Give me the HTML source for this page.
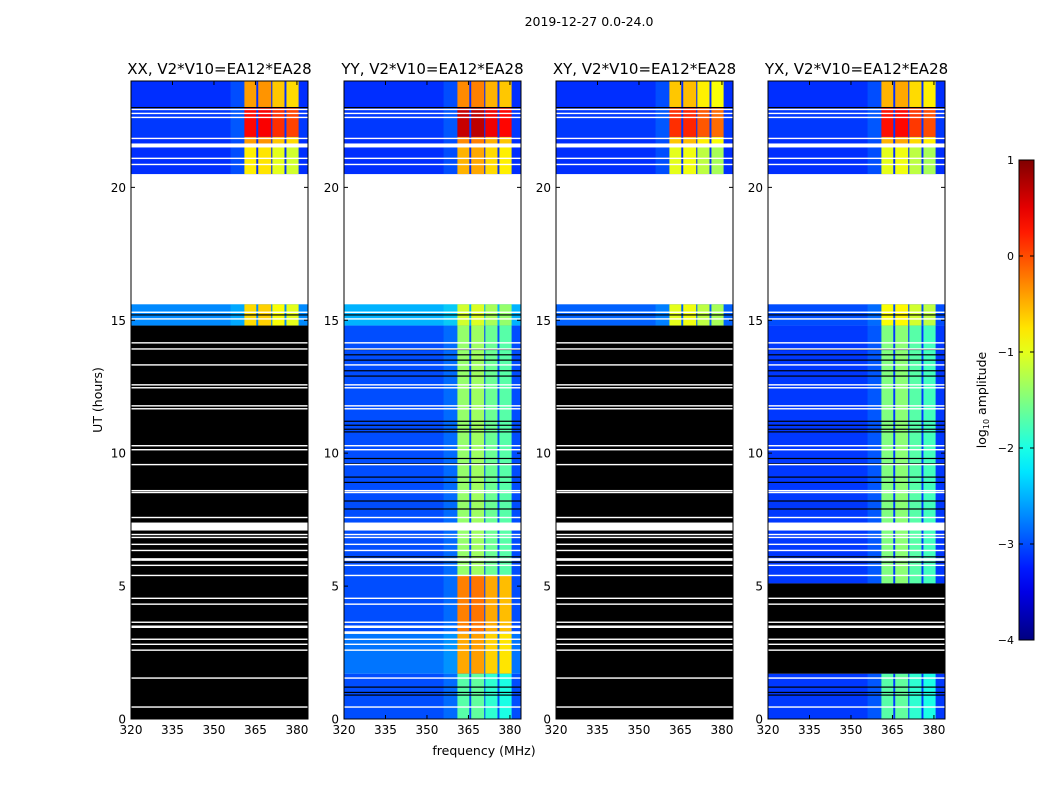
<!DOCTYPE html>
<html><head><meta charset="utf-8"><style>
body{margin:0;background:#fff;}
svg{display:block;font-family:"DejaVu Sans","Liberation Sans",sans-serif;}
</style></head><body>
<svg id="fig" width="1050" height="800" viewBox="0 0 1050 800" xmlns="http://www.w3.org/2000/svg">
<rect width="1050" height="800" fill="#fff"/>
<text x="589" y="26" font-size="12.5" text-anchor="middle">2019-12-27 0.0-24.0</text>
<text x="484" y="755" font-size="12.5" text-anchor="middle">frequency (MHz)</text>
<text x="0" y="0" font-size="12.5" text-anchor="middle" transform="translate(102,400) rotate(-90)">UT (hours)</text>
<g id="panels"></g>
<g id="cbar"></g>
<text font-size="12.5" text-anchor="middle" transform="translate(986,400) rotate(-90)">log<tspan font-size="8" dy="3">10</tspan><tspan dy="-3"> amplitude</tspan></text>
</svg>
<script>
// ---- data ----
const panelTitles = ["XX, V2*V10=EA12*EA28","YY, V2*V10=EA12*EA28","XY, V2*V10=EA12*EA28","YX, V2*V10=EA12*EA28"];
const xTicks = [320,335,350,365,380];
const yTicks = [0,5,10,15,20];
const cbarTicks = [1,0,-1,-2,-3,-4];
const cbarLabels = ["1","0","\u22121","\u22122","\u22123","\u22124"];
// subbands [startMHz, endMHz] and relative level offsets
const bandStart = [361.0, 366.0, 371.1, 376.2];
const bandEnd   = [365.3, 370.7, 375.5, 380.6];
const bandOffset = [0.0, 0.05, -0.2, -0.3];
// segments per panel: [t0, t1, kind, background log-amp, band log-amp]
const segXX = [[20.5,24,'d',-3.15,-0.4],[21.9,23.0,'d',-3.1,0.35],[20.5,21.6,'d',-3.15,-0.8],[14.8,15.6,'d',-2.7,-0.7],[0,14.8,'k',0,0]];
const segYY = [[20.5,24,'d',-3.15,-0.3],[21.9,23.0,'d',-3.1,0.65],[20.5,21.6,'d',-3.15,-0.5],[14.8,15.6,'d',-2.5,-1.1],[5.4,14.8,'d',-3.0,-1.4],[3.3,5.4,'d',-3.0,-0.25],[1.7,3.2,'d',-2.8,-0.45],[0,1.7,'d',-3.0,-1.7]];
const segXY = [[20.5,24,'d',-3.15,-0.6],[21.9,23.0,'d',-3.1,0.15],[20.5,21.6,'d',-3.15,-1.0],[14.8,15.6,'d',-2.9,-1.0],[0,14.8,'k',0,0]];
const segYX = [[20.5,24,'d',-3.15,-0.5],[21.9,23.0,'d',-3.1,0.3],[20.5,21.6,'d',-3.15,-1.0],[14.8,15.6,'d',-3.0,-0.9],[5.1,14.8,'d',-3.1,-1.5],[1.7,5.1,'k',0,0],[0,1.7,'d',-3.1,-1.7]];
const panelSegs = [segXX, segYY, segXY, segYX];
// flagged (white) time lines and (white) blocks, hours
const whiteLines = [22.93,22.78,22.63,21.84,21.09,20.86,15.3,15.05,14.15,13.92,13.32,12.57,12.46,11.78,11.67,10.28,10.13,9.57,8.59,8.52,7.58,6.94,6.83,6.57,6.34,5.78,5.40,4.54,4.32,3.64,3.49,3.45,3.0,2.81,2.59,1.54,0.45];
const whiteBlocks = [[7.09,7.39],[21.5,21.65],[5.95,6.05]];
// black (missing) time lines, hours (visible in data regions)
const blackLines = [23.0,13.9,13.7,13.5,13.1,12.9,11.2,11.05,10.9,10.8,9.8,9.6,9.1,8.9,8.2,7.9,6.1,5.9,1.2,1.0,0.9,15.2];

// ---- layout ----
const panelX = [131,344,556,768], panelW = 177, plotTop = 81, plotBot = 719;
const fMin = 320, fMax = 384, tMin = 0, tMax = 24, vMin = -4, vMax = 1;
const NS = "http://www.w3.org/2000/svg";
function jet(v){
  let t = Math.max(0, Math.min(1, (v - vMin) / (vMax - vMin)));
  const c = x => Math.round(255 * Math.max(0, Math.min(1, x)));
  return `rgb(${c(1.5-Math.abs(4*t-3))},${c(1.5-Math.abs(4*t-2))},${c(1.5-Math.abs(4*t-1))})`;
}
function el(tag, attrs, parent){
  const e = document.createElementNS(NS, tag);
  for (const k in attrs) e.setAttribute(k, attrs[k]);
  parent.appendChild(e); return e;
}
const yOf = t => plotBot - (t - tMin) / (tMax - tMin) * (plotBot - plotTop);
const panelsG = document.getElementById('panels');

panelSegs.forEach((segs, p) => {
  const x0 = panelX[p];
  const xOf = f => x0 + (f - fMin) / (fMax - fMin) * panelW;
  const g = el('g', {}, panelsG);
  
  
  const bg = el('rect', {x:x0, y:plotTop, width:panelW, height:plotBot-plotTop, fill:'#fff'}, g);
  
  
  segs.forEach(s => {
    const y1 = yOf(s[1]), y0 = yOf(s[0]);
    if (s[2] === 'k') {
      const r = el('rect', {x:x0, y:y1, width:panelW, height:y0-y1, fill:'#000'}, g);
      
      
    } else {
      const r = el('rect', {x:x0, y:y1, width:panelW, height:y0-y1, fill:jet(s[3])}, g);
      
      
      const ramp = el('rect', {x:xOf(356), y:y1, width:xOf(361)-xOf(356), height:y0-y1, fill:jet(s[3]+0.5), opacity:0.3}, g);
      
      
      bandStart.forEach((b, i) => {
        const c = el('rect', {x:xOf(b), y:y1, width:xOf(bandEnd[i])-xOf(b), height:y0-y1, fill:jet(s[4]+bandOffset[i])}, g);
        
        
      });
    }
  });
  blackLines.forEach(t => {
    const l = el('rect', {x:x0, y:yOf(t)-0.6, width:panelW, height:1.2, fill:'#000'}, g);
    
    
  });
  whiteLines.forEach(t => {
    const l = el('rect', {x:x0, y:yOf(t)-0.7, width:panelW, height:1.4, fill:'#fff'}, g);
    
    
  });
  whiteBlocks.forEach(b => {
    const l = el('rect', {x:x0, y:yOf(b[1]), width:panelW, height:yOf(b[0])-yOf(b[1]), fill:'#fff'}, g);
    
    
  });
  const frame = el('rect', {x:x0, y:plotTop, width:panelW, height:plotBot-plotTop, fill:'none', stroke:'#000', 'stroke-width':1}, g);
  
  
  const ttl = el('text', {x:x0+panelW/2, y:74, 'font-size':15, 'text-anchor':'middle'}, g);
  ttl.textContent = panelTitles[p];
  
  
  xTicks.forEach(f => {
    const x = xOf(f);
    const tk = el('path', {d:`M${x},${plotBot}v-4M${x},${plotTop}v4`, stroke:'#000', 'stroke-width':1}, g);
    
    
    const lb = el('text', {x:x, y:plotBot+15, 'font-size':12, 'text-anchor':'middle'}, g);
    lb.textContent = f;
    
    
  });
  yTicks.forEach(t => {
    const y = yOf(t);
    const tk = el('path', {d:`M${x0},${y}h4M${x0+panelW},${y}h-4`, stroke:'#000', 'stroke-width':1}, g);
    
    
    const lb = el('text', {x:x0-5, y:y+4.5, 'font-size':12, 'text-anchor':'end'}, g);
    lb.textContent = t;
    
    
  });
});

// colorbar
const cb = document.getElementById('cbar');
const cbX = 1019, cbW = 15, cbTop = 160, cbBot = 640;
const defs = el('defs', {}, cb);
const grad = el('linearGradient', {id:'jetg', x1:0, y1:1, x2:0, y2:0}, defs);
for (let i = 0; i <= 20; i++) {
  el('stop', {offset: i/20, 'stop-color': jet(vMin + (vMax - vMin) * i / 20)}, grad);
}
const cbr = el('rect', {x:cbX, y:cbTop, width:cbW, height:cbBot-cbTop, fill:'url(#jetg)', stroke:'#000', 'stroke-width':1}, cb);


cbarTicks.forEach((v, i) => {
  const y = cbBot - (v - vMin) / (vMax - vMin) * (cbBot - cbTop);
  const tk = el('path', {d:`M${cbX},${y}h4M${cbX+cbW},${y}h-4`, stroke:'#000', 'stroke-width':1}, cb);
  
  
  const lb = el('text', {x:cbX-5, y:y+4, 'font-size':11, 'text-anchor':'end'}, cb);
  lb.textContent = cbarLabels[i];
  
  
});
</script>
</body></html>
